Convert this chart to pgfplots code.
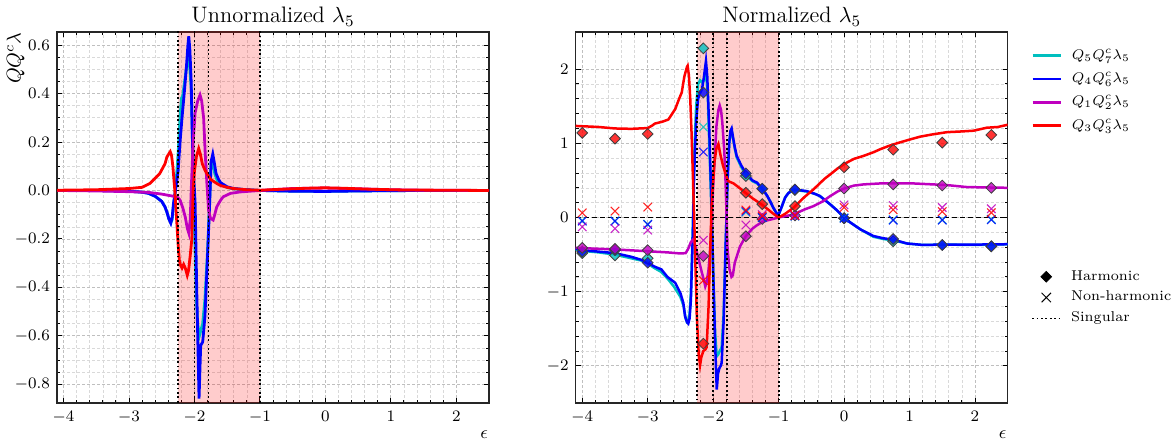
\documentclass[border=0pt]{standalone}
\usepackage{pgfplots}
\pgfplotsset{compat=1.18}
\definecolor{mc}{rgb}{0,0.75,0.75}
\definecolor{mb}{rgb}{0,0,1}
\definecolor{mm}{rgb}{0.75,0,0.75}
\definecolor{mr}{rgb}{1,0,0}
\pgfplotsset{
  panel/.style={
    scale only axis, width=216pt, height=185.5pt, anchor=south west,
    xmin=-4.1, xmax=2.5, xtick={-4,-3,-2,-1,0,1,2}, minor x tick num=4,
    tick align=inside, xtick pos=both, ytick pos=both,
    grid=both,
    major grid style={dash pattern=on 1.5pt off 1pt, black!25, line width=0.4pt},
    minor grid style={dash pattern=on 1.5pt off 1pt, black!15, line width=0.3pt},
    axis line style={line width=0.6pt, black!85},
    every tick/.style={black, line width=0.45pt},
    major tick length=2.6pt, minor tick length=1.4pt,
    tick label style={font=\fontsize{7.6}{9}\selectfont},
    xticklabel style={yshift=-0.8pt},
    title style={at={(axis description cs:0.5,1)}, anchor=base, yshift=-1.4pt, font=\fontsize{11.2}{13}\selectfont},
    xlabel={$\epsilon$},
    xlabel style={at={(axis description cs:1,0)}, anchor=center, xshift=-2.5pt, yshift=-16pt, font=\fontsize{9.5}{11}\selectfont},
    legend image code/.code={\draw[mark repeat=2,mark phase=2,#1] plot coordinates {(0pt,0pt) (7pt,0pt) (14pt,0pt)};},
  },
  sing/.style={black, line width=0.9pt, dash pattern=on 0.9pt off 1.3pt, forget plot},
  band/.style={draw=none, fill=red, fill opacity=0.2, forget plot},
  harm/.style={only marks, mark=square*, mark size=1.9pt, forget plot,
     mark options={rotate=45, draw=black!75, line width=0.4pt, fill=#1, fill opacity=0.8}},
  nonh/.style={only marks, mark=x, mark size=3pt, forget plot, #1, mark options={line width=0.55pt, draw opacity=0.85}},
}
\begin{document}
\begin{tikzpicture}
% ---------------- Left panel ----------------
\begin{axis}[panel, at={(28.5pt,20pt)},
  ymin=-0.877, ymax=0.654,
  ytick={-0.8,-0.6,-0.4,-0.2,0,0.2,0.4,0.6}, minor y tick num=3,
  yticklabel style={/pgf/number format/fixed, /pgf/number format/fixed zerofill, /pgf/number format/precision=1},
  title={Unnormalized $\lambda_5$},
  ylabel={$QQ^c\lambda$},
  ylabel style={at={(axis description cs:-0.096,1)}, anchor=east, inner sep=0pt, font=\fontsize{10}{12}\selectfont},
  every axis plot/.append style={line width=1.4pt},
]
\addplot[band] coordinates {(-2.25,-3) (-2.25,3) (-1,3) (-1,-3)} -- cycle;
% cyan Q5Q7c
\addplot[mc] coordinates {
(-4.1,0) (-3.5,0) (-3.0,-0.003) (-2.8,-0.007) (-2.7,-0.012) (-2.6,-0.024) (-2.5,-0.045) (-2.45,-0.068) (-2.42,-0.09) (-2.39,-0.118) (-2.36,-0.133) (-2.34,-0.12) (-2.32,-0.06) (-2.29,0.0) (-2.25,0.15) (-2.22,0.30) (-2.2,0.38) (-2.18,0.39) (-2.15,0.45) (-2.12,0.51) (-2.095,0.545) (-2.075,0.52) (-2.05,0.42) (-2.03,0.22) (-2.0,-0.15) (-1.97,-0.45) (-1.95,-0.55) (-1.925,-0.6) (-1.905,-0.58) (-1.875,-0.55) (-1.84,-0.45) (-1.80,-0.25) (-1.77,-0.06) (-1.745,0.12) (-1.72,0.13) (-1.69,0.07) (-1.65,0.04) (-1.6,0.027) (-1.5,0.012) (-1.4,0.007) (-1.2,0.003) (-1.0,0.0) (-0.5,-0.003) (0,-0.004) (0.5,-0.002) (1.0,-0.001) (1.5,0) (2.5,0)};
% blue Q4Q6c
\addplot[mb] coordinates {
(-4.1,0) (-3.5,0) (-3.0,-0.003) (-2.8,-0.007) (-2.7,-0.012) (-2.6,-0.024) (-2.5,-0.045) (-2.45,-0.068) (-2.42,-0.09) (-2.39,-0.118) (-2.362,-0.135) (-2.34,-0.11) (-2.32,-0.053) (-2.29,0.0) (-2.25,0.08) (-2.22,0.2) (-2.19,0.3) (-2.15,0.42) (-2.12,0.52) (-2.10,0.6) (-2.087,0.636) (-2.07,0.58) (-2.05,0.45) (-2.035,0.25) (-2.02,0.1) (-1.99,-0.05) (-1.965,-0.41) (-1.93,-0.859) (-1.905,-0.64) (-1.874,-0.625) (-1.84,-0.52) (-1.80,-0.27) (-1.77,-0.07) (-1.745,0.12) (-1.72,0.15) (-1.70,0.12) (-1.67,0.07) (-1.63,0.045) (-1.6,0.032) (-1.5,0.015) (-1.4,0.008) (-1.2,0.003) (-1.0,0.0) (-0.5,-0.003) (0,-0.004) (0.5,-0.002) (1.0,-0.001) (1.5,0) (2.5,0)};
% magenta Q1Q2c
\addplot[mm] coordinates {
(-4.1,0) (-3.5,-0.002) (-3,-0.005) (-2.7,-0.008) (-2.5,-0.015) (-2.4,-0.02) (-2.3,-0.025) (-2.25,-0.03) (-2.22,-0.04) (-2.18,-0.07) (-2.14,-0.11) (-2.11,-0.155) (-2.085,-0.177) (-2.065,-0.12) (-2.045,0.03) (-2.02,0.2) (-1.99,0.32) (-1.95,0.37) (-1.915,0.394) (-1.89,0.37) (-1.86,0.3) (-1.835,0.15) (-1.81,0.03) (-1.785,-0.08) (-1.755,-0.115) (-1.715,-0.122) (-1.69,-0.1) (-1.66,-0.068) (-1.6,-0.04) (-1.56,-0.026) (-1.45,-0.012) (-1.3,-0.006) (-1.0,0) (-0.5,0.008) (0,0.01) (0.5,0.007) (1,0.003) (1.5,0.001) (2.5,0)};
% red Q3Q3c
\addplot[mr] coordinates {
(-4.1,0.001) (-3.5,0.003) (-3.0,0.008) (-2.8,0.013) (-2.68,0.029) (-2.53,0.07) (-2.45,0.11) (-2.42,0.139) (-2.37,0.16) (-2.35,0.145) (-2.33,0.1) (-2.30,0.0) (-2.27,-0.13) (-2.25,-0.22) (-2.23,-0.29) (-2.21,-0.31) (-2.19,-0.32) (-2.165,-0.305) (-2.14,-0.32) (-2.11,-0.35) (-2.09,-0.33) (-2.065,-0.27) (-2.04,-0.2) (-2.02,0.0) (-2.0,0.08) (-1.97,0.14) (-1.935,0.173) (-1.91,0.15) (-1.88,0.11) (-1.84,0.084) (-1.8,0.065) (-1.75,0.045) (-1.66,0.029) (-1.6,0.02) (-1.5,0.013) (-1.41,0.008) (-1.2,0.003) (-1.0,0.001) (-0.6,0.006) (-0.2,0.01) (0,0.011) (0.3,0.009) (0.7,0.005) (1.2,0.002) (2.5,0)};
\addplot[sing] coordinates {(-2.25,-3) (-2.25,3)};
\addplot[sing] coordinates {(-2.0,-3) (-2.0,3)};
\addplot[sing] coordinates {(-1.785,-3) (-1.785,3)};
\addplot[sing] coordinates {(-1.0,-3) (-1.0,3)};
\end{axis}
% ---------------- Right panel ----------------
\begin{axis}[panel, at={(287.85pt,20pt)},
  ymin=-2.5, ymax=2.5,
  ytick={-2,-1,0,1,2}, minor y tick num=4,
  title={Normalized $\lambda_5$},
  every axis plot/.append style={line width=1.25pt},
  legend style={draw=none, fill=none, at={(1.04,0.969)}, anchor=north west,
     font=\fontsize{7.1}{8.5}\selectfont, legend cell align=left, row sep=4pt,
     /tikz/column sep=4.5pt, nodes={inner sep=0.5pt}},
]
\addplot[band] coordinates {(-2.25,-3) (-2.25,3) (-1,3) (-1,-3)} -- cycle;
\addplot[black, line width=0.5pt, dash pattern=on 2.5pt off 1.5pt, forget plot] coordinates {(-4.1,0) (2.5,0)};
% cyan
\addplot[mc] coordinates {
(-4.1,-0.43) (-4,-0.45) (-3.75,-0.47) (-3.5,-0.5) (-3.25,-0.55) (-3.1,-0.58) (-3,-0.62) (-2.9,-0.68) (-2.8,-0.73) (-2.7,-0.82) (-2.6,-0.93) (-2.5,-1.07) (-2.45,-1.2) (-2.42,-1.36) (-2.40,-1.41) (-2.38,-1.40) (-2.36,-1.3) (-2.34,-1.0) (-2.31,-0.1) (-2.29,0.8) (-2.26,1.5) (-2.23,1.8) (-2.2,1.85) (-2.17,1.82) (-2.14,1.85) (-2.12,1.9) (-2.10,1.85) (-2.08,1.6) (-2.06,1.0) (-2.03,0.2) (-2.0,-0.7) (-1.97,-1.55) (-1.945,-1.87) (-1.925,-1.85) (-1.9,-1.8) (-1.87,-1.75) (-1.84,-1.3) (-1.81,-0.4) (-1.78,0.5) (-1.755,1.0) (-1.735,1.15) (-1.72,1.18) (-1.70,1.08) (-1.67,0.93) (-1.64,0.81) (-1.57,0.68) (-1.5,0.57) (-1.4,0.49) (-1.33,0.46) (-1.25,0.385) (-1.18,0.3) (-1.13,0.22) (-1.08,0.13) (-1.05,0.085) (-1.02,0.04) (-0.99,0.06) (-0.95,0.15) (-0.9,0.27) (-0.85,0.33) (-0.77,0.37) (-0.7,0.365) (-0.57,0.35) (-0.45,0.32) (-0.37,0.29) (-0.3,0.24) (-0.21,0.176) (-0.1,0.09) (0,0.0) (0.1,-0.07) (0.25,-0.16) (0.45,-0.26) (0.6,-0.29) (0.76,-0.31) (0.96,-0.35) (1.2,-0.37) (1.5,-0.365) (2.0,-0.37) (2.5,-0.36)};
\addlegendentry{$Q_5Q_7^c\lambda_5$}
% blue
\addplot[mb] coordinates {
(-4.1,-0.42) (-4,-0.44) (-3.75,-0.46) (-3.5,-0.48) (-3.25,-0.53) (-3.1,-0.57) (-3,-0.61) (-2.9,-0.66) (-2.79,-0.70) (-2.7,-0.80) (-2.58,-0.88) (-2.5,-1.02) (-2.456,-1.15) (-2.43,-1.33) (-2.40,-1.41) (-2.38,-1.43) (-2.36,-1.36) (-2.34,-1.11) (-2.31,-0.21) (-2.29,0.6) (-2.26,1.3) (-2.23,1.6) (-2.2,1.68) (-2.17,1.73) (-2.14,1.9) (-2.11,2.11) (-2.09,1.9) (-2.06,1.2) (-2.03,0.3) (-2.0,-0.7) (-1.97,-1.7) (-1.945,-2.32) (-1.925,-2.1) (-1.905,-2.03) (-1.885,-2.0) (-1.87,-1.96) (-1.84,-1.4) (-1.81,-0.4) (-1.78,0.5) (-1.755,1.0) (-1.735,1.17) (-1.718,1.2) (-1.70,1.1) (-1.67,0.95) (-1.64,0.83) (-1.57,0.7) (-1.5,0.6) (-1.4,0.5) (-1.33,0.47) (-1.25,0.39) (-1.18,0.3) (-1.13,0.22) (-1.08,0.13) (-1.05,0.085) (-1.02,0.04) (-0.99,0.06) (-0.95,0.15) (-0.9,0.27) (-0.85,0.33) (-0.77,0.378) (-0.7,0.37) (-0.57,0.356) (-0.45,0.32) (-0.37,0.29) (-0.3,0.24) (-0.21,0.176) (-0.1,0.09) (0,0.0) (0.1,-0.07) (0.25,-0.16) (0.45,-0.25) (0.6,-0.28) (0.76,-0.30) (0.96,-0.35) (1.2,-0.37) (1.5,-0.365) (2.0,-0.365) (2.5,-0.36)};
\addlegendentry{$Q_4Q_6^c\lambda_5$}
% magenta
\addplot[mm] coordinates {
(-4.1,-0.41) (-3.5,-0.43) (-3.0,-0.455) (-2.7,-0.47) (-2.5,-0.485) (-2.42,-0.48) (-2.38,-0.42) (-2.34,-0.33) (-2.31,-0.30) (-2.28,-0.36) (-2.24,-0.5) (-2.21,-0.61) (-2.17,-0.75) (-2.14,-0.85) (-2.12,-0.93) (-2.10,-0.88) (-2.07,-0.7) (-2.05,-0.48) (-2.02,0.0) (-2.0,0.42) (-1.97,0.9) (-1.95,1.23) (-1.92,1.45) (-1.90,1.51) (-1.88,1.45) (-1.86,1.28) (-1.83,0.9) (-1.81,0.47) (-1.78,-0.43) (-1.75,-0.7) (-1.72,-0.8) (-1.70,-0.78) (-1.67,-0.61) (-1.59,-0.39) (-1.5,-0.25) (-1.4,-0.15) (-1.34,-0.11) (-1.25,-0.06) (-1.18,-0.04) (-1.0,0.0) (-0.774,0.04) (-0.6,0.11) (-0.468,0.153) (-0.32,0.22) (-0.213,0.288) (-0.1,0.35) (0,0.39) (0.15,0.43) (0.297,0.446) (0.55,0.459) (1.06,0.459) (1.57,0.437) (1.878,0.41) (2.5,0.40)};
\addlegendentry{$Q_1Q_2^c\lambda_5$}
% red
\addplot[mr] coordinates {
(-4.1,1.234) (-3.75,1.22) (-3.5,1.2) (-3.25,1.195) (-3.0,1.205) (-2.93,1.24) (-2.89,1.266) (-2.78,1.29) (-2.685,1.32) (-2.58,1.46) (-2.52,1.6) (-2.48,1.685) (-2.44,1.9) (-2.40,2.03) (-2.39,2.045) (-2.37,1.91) (-2.35,1.6) (-2.33,1.14) (-2.29,0.0) (-2.25,-1.33) (-2.22,-1.85) (-2.2,-1.99) (-2.18,-1.88) (-2.15,-1.8) (-2.12,-1.78) (-2.1,-1.75) (-2.07,-1.2) (-2.04,-0.3) (-2.02,0.24) (-1.98,0.75) (-1.95,0.93) (-1.92,0.99) (-1.89,0.85) (-1.85,0.7) (-1.80,0.56) (-1.77,0.49) (-1.69,0.46) (-1.6,0.40) (-1.5,0.33) (-1.4,0.26) (-1.25,0.17) (-1.15,0.1) (-1.08,0.05) (-1.0,0.0) (-0.9,0.05) (-0.774,0.13) (-0.6,0.28) (-0.468,0.378) (-0.3,0.52) (-0.213,0.58) (-0.1,0.66) (0,0.72) (0.15,0.79) (0.297,0.83) (0.45,0.88) (0.552,0.92) (0.7,0.97) (0.807,1.0) (1.0,1.05) (1.164,1.09) (1.35,1.12) (1.572,1.15) (1.8,1.16) (1.98,1.17) (2.18,1.21) (2.35,1.22) (2.5,1.25)};
\addlegendentry{$Q_3Q_3^c\lambda_5$}
\addplot[sing] coordinates {(-2.25,-3) (-2.25,3)};
\addplot[sing] coordinates {(-2.0,-3) (-2.0,3)};
\addplot[sing] coordinates {(-1.785,-3) (-1.785,3)};
\addplot[sing] coordinates {(-1.0,-3) (-1.0,3)};
% harmonic
\addplot[harm=mc] coordinates {(-4,-0.48) (-3.5,-0.51) (-3,-0.55) (-2.15,2.28) (-1.5,0.56) (-1.25,0.387) (-0.75,0.37) (0,-0.01) (0.75,-0.32) (1.5,-0.37) (2.25,-0.39)};
\addplot[harm=mb] coordinates {(-4,-0.46) (-3.5,-0.44) (-3,-0.61) (-2.15,1.685) (-1.5,0.595) (-1.25,0.387) (-0.75,0.378) (0,-0.01) (0.75,-0.29) (1.5,-0.37) (2.25,-0.387)};
\addplot[harm=mm] coordinates {(-4,-0.41) (-3.5,-0.423) (-3,-0.44) (-2.15,-0.52) (-1.5,-0.252) (-1.25,-0.02) (-0.75,0.027) (0,0.39) (0.75,0.446) (1.5,0.432) (2.25,0.40)};
\addplot[harm=mr] coordinates {(-4,1.14) (-3.5,1.063) (-3,1.126) (-2.15,-1.70) (-1.5,0.333) (-1.25,0.18) (-0.75,0.153) (0,0.676) (0.75,0.914) (1.5,1.009) (2.25,1.113)};
% non-harmonic
\addplot[nonh=mc] coordinates {(-4,-0.04) (-3.5,-0.045) (-3,-0.09) (-2.15,1.22) (-1.5,0.07) (-1.25,0.0) (-0.75,0.02) (0,-0.005) (0.75,-0.03) (1.5,-0.03) (2.25,-0.025)};
\addplot[nonh=mb] coordinates {(-4,-0.05) (-3.5,-0.05) (-3,-0.095) (-2.15,0.883) (-1.5,0.085) (-1.25,0.0) (-0.75,0.02) (0,-0.01) (0.75,-0.036) (1.5,-0.036) (2.25,-0.03)};
\addplot[nonh=mm] coordinates {(-4,-0.126) (-3.5,-0.15) (-3,-0.17) (-2.15,-0.306) (-1.5,-0.10) (-1.25,0.04) (-0.75,0.03) (0,0.17) (0.75,0.16) (1.5,0.135) (2.25,0.117)};
\addplot[nonh=mr] coordinates {(-4,0.063) (-3.5,0.086) (-3,0.14) (-2.15,-0.85) (-1.5,0.10) (-1.25,0.02) (-0.75,0.027) (0,0.135) (0.75,0.105) (1.5,0.08) (2.25,0.065)};
\end{axis}
% ---------------- second legend ----------------
\begin{axis}[at={(287.85pt,20pt)}, anchor=south west, scale only axis, width=216pt, height=185.5pt,
  hide axis, xmin=0, xmax=1, ymin=0, ymax=1,
  legend image code/.code={\draw[mark repeat=2,mark phase=2,#1] plot coordinates {(0pt,0pt) (7pt,0pt) (14pt,0pt)};},
  legend style={draw=none, fill=none, at={(1.04,0.372)}, anchor=north west,
     font=\fontsize{7.1}{8.5}\selectfont, legend cell align=left, row sep=3pt,
     /tikz/column sep=4.5pt, nodes={inner sep=0.5pt}},
]
\addlegendimage{only marks, black, mark=square*, mark size=1.9pt, mark options={rotate=45, fill=black}}
\addlegendentry{Harmonic}
\addlegendimage{only marks, black, mark=x, mark size=3.3pt, mark options={line width=0.5pt}}
\addlegendentry{Non-harmonic}
\addlegendimage{black, line width=0.9pt, dash pattern=on 0.9pt off 1.3pt}
\addlegendentry{Singular}
\end{axis}
\pgfresetboundingbox
\path[use as bounding box] (0,0) rectangle (586.5pt,221.5pt);
\end{tikzpicture}
\end{document}
